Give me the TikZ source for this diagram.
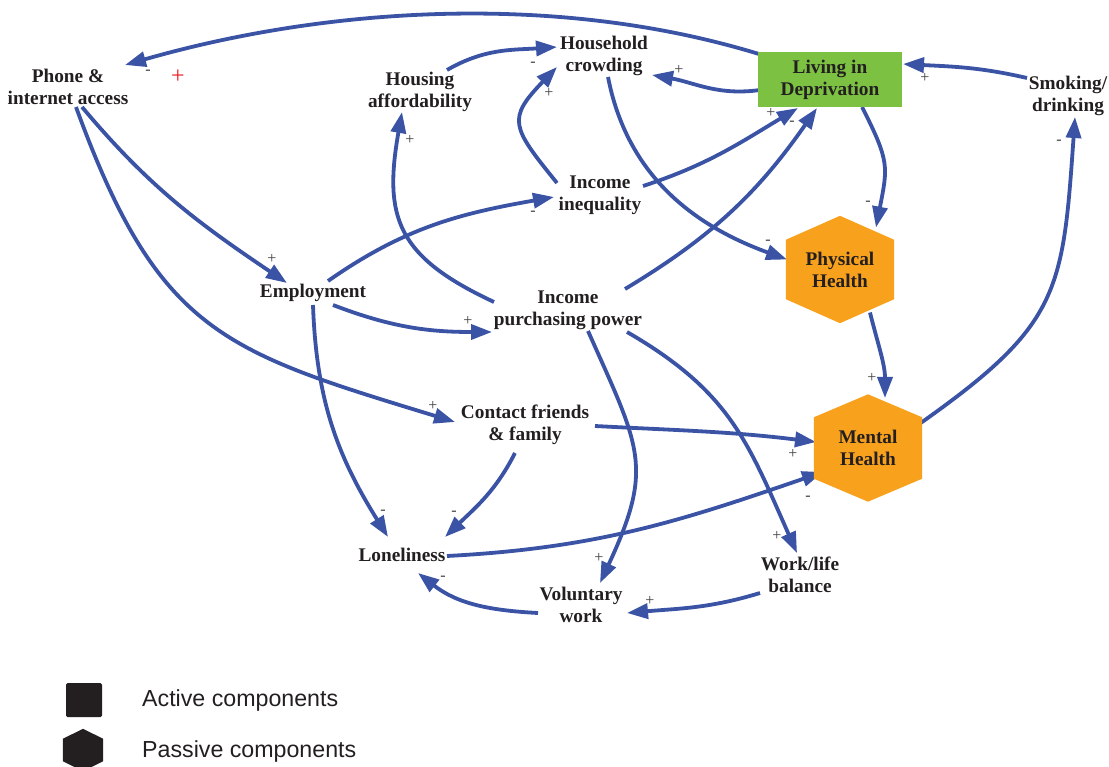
\documentclass[tikz,border=0pt]{standalone}
\usepackage{fontspec}
\setmainfont{Liberation Serif}
\newfontfamily\keyfont{Liberation Sans}
\usetikzlibrary{arrows.meta}
\definecolor{ink}{HTML}{231F20}
\definecolor{linkblue}{HTML}{3A53A4}
\definecolor{deprgreen}{HTML}{7DC143}
\definecolor{healthorange}{HTML}{F8A11D}
\definecolor{signgray}{HTML}{404040}
\definecolor{signred}{HTML}{ED1C24}
\pgfdeclarelayer{links}
\pgfdeclarelayer{hexfill}
\pgfsetlayers{links,hexfill,main}
% pointy-topped hexagon filling the box of node #1, corner drop #2, colour #3
\newcommand\hexpatch[3]{%
  \fill[#3] (#1.north) -- ([yshift=-#2]#1.north east) -- ([yshift=#2]#1.south east)
    -- (#1.south) -- ([yshift=#2]#1.south west) -- ([yshift=-#2]#1.north west) -- cycle;}
\begin{document}
\begin{tikzpicture}[x=1pt,y=1pt,
  var/.style={font=\bfseries\fontsize{19.3}{21.8}\selectfont, text=ink, align=center, inner sep=0pt},
  activebox/.style={var, fill=deprgreen, minimum width=144pt, minimum height=55pt},
  hexbox/.style={var, minimum width=108pt, minimum height=107pt},
  link/.style={draw=linkblue, line width=3.8pt, -{Triangle[length=21pt,width=15pt]}},
  sign/.style={font=\fontsize{16}{16}\selectfont, text=signgray, inner sep=0pt},
  keytext/.style={font=\keyfont\fontsize{23.2}{24}\selectfont, text=ink, inner sep=0pt, anchor=west},
]
\useasboundingbox (0,0) rectangle (1109,-767);

% variables
\node[var] (phone) at (68,-87) {Phone \&\\internet access};
\node[var] (housing) at (420,-92) {Housing\\affordability};
\node[var] (crowd) at (604,-56) {Household\\crowding};
\node[activebox] (lid) at (830,-79.5) {Living in\\Deprivation};
\node[var] (smoke) at (1068,-96) {Smoking/\\drinking};
\node[var] (ineq) at (600,-195) {Income\\inequality};
\node[hexbox] (phys) at (840,-269.5) {Physical\\Health};
\node[var] (empl) at (313,-293) {Employment};
\node[var] (ipp) at (568,-310) {Income\\purchasing power};
\node[var] (contact) at (525,-425) {Contact friends\\\& family};
\node[hexbox] (mental) at (868,-448) {Mental\\Health};
\node[var] (lonely) at (402,-555) {Loneliness};
\node[var] (vol) at (581,-605) {Voluntary\\work};
\node[var] (work) at (800,-575) {Work/life\\balance};

% key
\node[fill=ink, minimum width=36pt, minimum height=34pt, inner sep=0pt, rounded corners=1.5pt] (keyact) at (84,-700) {};
\node[minimum width=40pt, minimum height=42pt, inner sep=0pt] (keypas) at (83,-750) {};
\node[keytext] (keyacttxt) at (142,-700) {Active components};
\node[keytext] (keypastxt) at (142,-751) {Passive components};

\begin{pgfonlayer}{hexfill}
  \hexpatch{phys}{24pt}{healthorange}
  \hexpatch{mental}{23pt}{healthorange}
  \hexpatch{keypas}{10pt}{ink}
\end{pgfonlayer}

\begin{pgfonlayer}{links}
  \draw[link] ([shift={(-71,25.5)}]lid.center) to[out=163,in=16,looseness=0.85] ([shift={(57,22)}]phone.center);
  \draw[link] ([shift={(-70,-10.5)}]lid.center) to[out=188,in=-10] ([shift={(48,-19)}]crowd.center);
  \draw[link] ([shift={(27,22)}]housing.center) to[out=30,in=184] ([shift={(-47,9)}]crowd.center);
  \draw[link] ([shift={(-43,12)}]ineq.center) to[out=129,in=226,looseness=1.6] ([shift={(-47,-11)}]crowd.center);
  \draw[link] ([shift={(-74,8)}]ipp.center) to[out=155,in=260,looseness=1.3] ([shift={(-18,-20)}]housing.center);
  \draw[link] ([shift={(15,12)}]empl.center) to[out=35,in=190] ([shift={(-46,-2)}]ineq.center);
  \draw[link] ([shift={(43,9)}]ineq.center) to[out=18,in=211] ([shift={(-32,-28.5)}]lid.center);
  \draw[link] ([shift={(57,21)}]ipp.center) to[out=31,in=235] ([shift={(-13,-28.5)}]lid.center);
  \draw[link] ([shift={(4,-21)}]crowd.center) to[out=281,in=160] ([shift={(-53,10)}]phys.center);
  \draw[link] ([shift={(32,-27.5)}]lid.center) to[out=297,in=79,looseness=1.3] ([shift={(36,42)}]phys.center);
  \draw[link] ([shift={(-41,18)}]smoke.center) to[out=167,in=357] ([shift={(73,15.5)}]lid.center);
  \draw[link] ([shift={(47,21)}]mental.center) to[out=35,in=266,looseness=1.3] ([shift={(7,-21)}]smoke.center);
  \draw[link] ([shift={(14,-20)}]phone.center) to[out=310,in=146] ([shift={(-26,10)}]empl.center);
  \draw[link] ([shift={(8,-20)}]phone.center) to[out=290,in=163,looseness=1.25] ([shift={(-70,3)}]contact.center);
  \draw[link] ([shift={(20,-12)}]empl.center) to[out=339,in=180] ([shift={(-76,-22)}]ipp.center);
  \draw[link] ([shift={(0,-12)}]empl.center) to[out=272,in=122] ([shift={(-14,18)}]lonely.center);
  \draw[link] ([shift={(70,-1)}]contact.center) to[out=-3,in=173] ([shift={(-52,6)}]mental.center);
  \draw[link] ([shift={(-10,-28)}]contact.center) to[out=243,in=44] ([shift={(43,18)}]lonely.center);
  \draw[link] ([shift={(45,-1)}]lonely.center) to[out=3,in=199] ([shift={(-45,-24)}]mental.center);
  \draw[link] ([shift={(30,-43)}]phys.center) to[out=284,in=90] ([shift={(17,50)}]mental.center);
  \draw[link] ([shift={(20,-21)}]ipp.center) to[out=294,in=65,looseness=1.3] ([shift={(19,22)}]vol.center);
  \draw[link] ([shift={(59,-22)}]ipp.center) to[out=330,in=114,looseness=1.1] ([shift={(-3,22)}]work.center);
  \draw[link] ([shift={(-40,-18)}]work.center) to[out=197,in=5] ([shift={(46,-8)}]vol.center);
  \draw[link] ([shift={(-43,-8)}]vol.center) to[out=177,in=322] ([shift={(16,-18)}]lonely.center);
\end{pgfonlayer}

% polarity signs
\node[sign] (p1) at (148,-72) {-};
\node[sign, text=signred, font=\fontsize{24}{24}\selectfont] (p2) at (178,-77) {+};
\node[sign] (p3) at (679,-70) {+};
\node[sign] (p4) at (533,-64) {-};
\node[sign] (p5) at (549,-93) {+};
\node[sign] (p6) at (410,-140) {+};
\node[sign] (p7) at (533,-213) {-};
\node[sign] (p8) at (771,-113) {+};
\node[sign] (p9) at (792,-123) {-};
\node[sign] (p10) at (768,-242) {-};
\node[sign] (p11) at (868,-203) {-};
\node[sign] (p12) at (925,-78) {+};
\node[sign] (p13) at (1059,-142) {-};
\node[sign] (p14) at (272,-259) {+};
\node[sign] (p15) at (468,-321) {+};
\node[sign] (p16) at (433,-406) {+};
\node[sign] (p17) at (872,-378) {+};
\node[sign] (p18) at (793,-454) {+};
\node[sign] (p19) at (808,-498) {-};
\node[sign] (p20) at (383,-512) {-};
\node[sign] (p21) at (454,-513) {-};
\node[sign] (p22) at (777,-536) {+};
\node[sign] (p23) at (599,-558) {+};
\node[sign] (p24) at (443,-578) {-};
\node[sign] (p25) at (650,-601) {+};
\end{tikzpicture}
\end{document}
